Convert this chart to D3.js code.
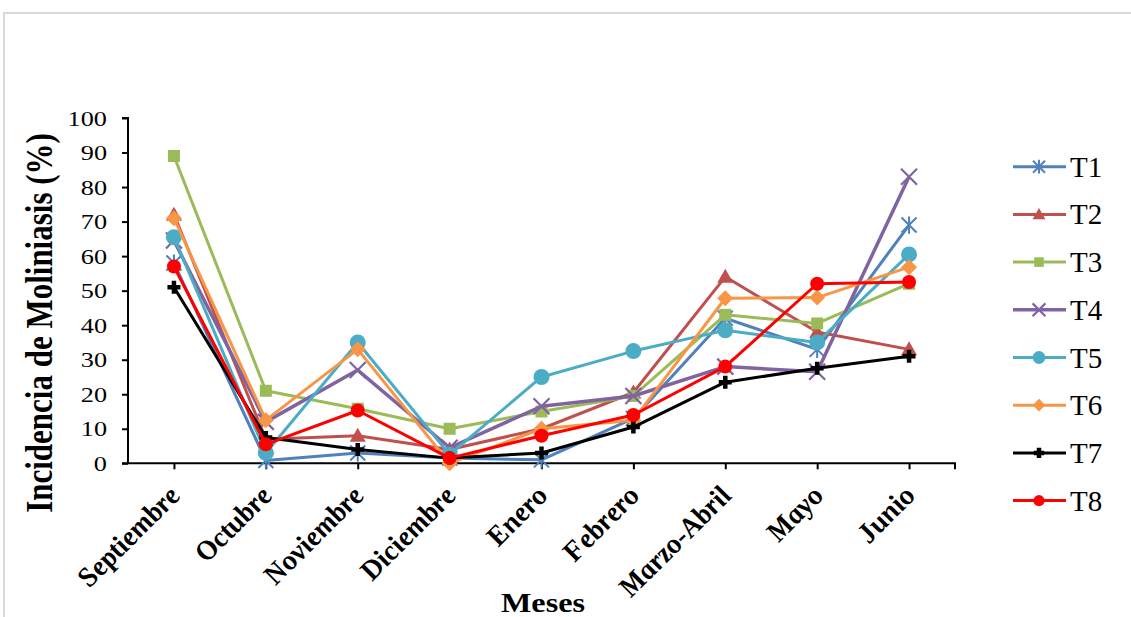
<!DOCTYPE html>
<html><head><meta charset="utf-8">
<script src="https://cdn.jsdelivr.net/npm/d3@7"></script>
<style>body{margin:0;background:#fff}svg{display:block}text{font-family:"Liberation Serif","Times New Roman",serif}</style>
</head><body>
<svg id="c" width="1131" height="617"></svg>
<script>
const months = ["Septiembre","Octubre","Noviembre","Diciembre","Enero","Febrero","Marzo-Abril","Mayo","Junio"];
const seriesNames = ["T1","T2","T3","T4","T5","T6","T7","T8"];
const T1 = [58, 0.8, 3, 1.5, 1, 13, 42, 33, 69];
const T2 = [72, 7, 8, 4, 10, 20.5, 54, 38, 33];
const T3 = [89, 21, 15.8, 10, 15, 19.5, 43, 40.5, 52];
const T4 = [64.5, 12, 27, 4.5, 16.5, 19.5, 28, 26.5, 83];
const T5 = [65.5, 3, 35, 2.5, 25, 32.5, 38.5, 35, 60.5];
const T6 = [71, 12.5, 33, 0, 10, 12.5, 47.8, 48, 56.8];
const T7 = [51, 7.5, 4, 1.5, 3, 10.5, 23.5, 27.5, 31];
const T8 = [57, 5.5, 15.3, 1.5, 8, 14, 28, 52, 52.5];
const yTicks = [0,10,20,30,40,50,60,70,80,90,100];

const values = [T1,T2,T3,T4,T5,T6,T7,T8];
const colors = ["#4F81BD","#C0504D","#9BBB59","#8064A2","#4BACC6","#F79646","#000000","#FF0000"];
const markers = ["star","triangle","square","x","circle","diamond","plus","dot"];
const FONT = "Liberation Serif";

const svg = d3.select("#c");
const L = 128, R = 955, T = 118, B = 463.3;
const SX = 1.25;

svg.append("rect").attr("x",4).attr("y",13).attr("width",1140).attr("height",620)
  .attr("fill","none").attr("stroke","#d9d9d9").attr("stroke-width",2);

const x = d3.scalePoint().domain(months).range([L, R]).padding(0.5);
const y = d3.scaleLinear().domain([0,100]).range([B, T]);

const ya = svg.append("g").attr("transform",`translate(${L},0)`)
  .call(d3.axisLeft(y).tickValues(yTicks).tickSize(6).tickFormat(d3.format("d")))
  .attr("font-family", FONT);
ya.select(".domain").attr("stroke","#000").attr("stroke-width",2).attr("d",`M-6,${T}H0V${B}`);
ya.selectAll(".tick line").attr("stroke","#000").attr("stroke-width",2);
ya.selectAll(".tick text").each(function(){
  d3.select(this).attr("x",null).attr("dy",null).attr("y",null)
   .attr("text-anchor","end")
   .attr("transform",`translate(-21,7) scale(${SX},1)`)
   .attr("font-family", FONT)
   .style("font-size","21px").attr("fill","#000");
});

const xa = svg.append("g").attr("transform",`translate(0,${B})`)
  .call(d3.axisBottom(x).tickSize(6).tickSizeOuter(6))
  .attr("font-family", FONT);
xa.select(".domain").attr("stroke","#000").attr("stroke-width",2).attr("d",`M${L-6},0H${R}V6`);
xa.selectAll(".tick line").attr("stroke","#000").attr("stroke-width",2);
xa.selectAll(".tick text").each(function(){
  d3.select(this).attr("y",null).attr("dy",null).attr("x",null)
   .attr("text-anchor","end")
   .attr("transform",`translate(8,33) scale(1.2,1) rotate(-50)`)
   .attr("font-family", FONT)
   .style("font-size","26px").style("font-weight","bold").style("font-style","italic")
   .attr("fill","#000");
});

svg.append("text").attr("text-anchor","middle")
  .attr("transform",`translate(52,323) scale(${SX},1) rotate(-90)`)
  .attr("font-family", FONT)
  .style("font-size","31px").style("font-weight","bold").text("Incidencia de Moliniasis (%)");
svg.append("text").attr("text-anchor","middle")
  .attr("transform",`translate(543,612) scale(1.15,1)`)
  .attr("font-family", FONT)
  .style("font-size","28px").style("font-weight","bold").text("Meses");

function drawMarker(g, type, color, cx, cy, s) {
  const k = s || 1;
  if (type === "star") {
    const r = 7.5*k;
    g.append("path").attr("d",`M${cx-r},${cy-r}L${cx+r},${cy+r}M${cx-r},${cy+r}L${cx+r},${cy-r}M${cx},${cy-r*1.15}V${cy+r*1.15}`)
      .attr("stroke",color).attr("stroke-width",2).attr("fill","none");
  } else if (type === "triangle") {
    const r = 8*k;
    g.append("path").attr("d",`M${cx},${cy-r}L${cx+r},${cy+r*0.75}L${cx-r},${cy+r*0.75}Z`).attr("fill",color);
  } else if (type === "square") {
    const r = 6*k;
    g.append("rect").attr("x",cx-r).attr("y",cy-r).attr("width",2*r).attr("height",2*r).attr("fill",color);
  } else if (type === "x") {
    const r = 8*k;
    g.append("path").attr("d",`M${cx-r},${cy-r}L${cx+r},${cy+r}M${cx-r},${cy+r}L${cx+r},${cy-r}`)
      .attr("stroke",color).attr("stroke-width",2.2).attr("fill","none");
  } else if (type === "circle") {
    g.append("circle").attr("cx",cx).attr("cy",cy).attr("r",8*k).attr("fill",color);
  } else if (type === "diamond") {
    const r = 8*k;
    g.append("path").attr("d",`M${cx},${cy-r}L${cx+r},${cy}L${cx},${cy+r}L${cx-r},${cy}Z`).attr("fill",color);
  } else if (type === "plus") {
    const r = 6.5*k;
    g.append("path").attr("d",`M${cx-r},${cy}H${cx+r}M${cx},${cy-r}V${cy+r}`)
      .attr("stroke",color).attr("stroke-width",4.5).attr("fill","none");
  } else if (type === "dot") {
    g.append("circle").attr("cx",cx).attr("cy",cy).attr("r",7*k).attr("fill",color);
  }
}

const line = d3.line().x((d,i)=>x(months[i])).y(d=>y(d));
const plot = svg.append("g");
values.forEach((vals, si) => {
  const g = plot.append("g");
  g.append("path").datum(vals).attr("d", line).attr("fill","none")
    .attr("stroke", colors[si]).attr("stroke-width", si===3?3.5:3).attr("stroke-linejoin","round");
  vals.forEach((v,i) => drawMarker(g, markers[si], colors[si], x(months[i]), y(v), 1));
});

const lg = svg.append("g");
seriesNames.forEach((n, i) => {
  const cy = 166.7 + i*47.7;
  const g = lg.append("g");
  g.append("line").attr("x1",1013).attr("x2",1066).attr("y1",cy).attr("y2",cy)
    .attr("stroke",colors[i]).attr("stroke-width",i===3?3.5:3);
  drawMarker(g, markers[i], colors[i], 1039, cy, 0.8);
  g.append("text").attr("x",1070).attr("y",cy+10)
    .attr("font-family", FONT)
    .style("font-size","29px").text(n);
});
</script>
</body></html>
